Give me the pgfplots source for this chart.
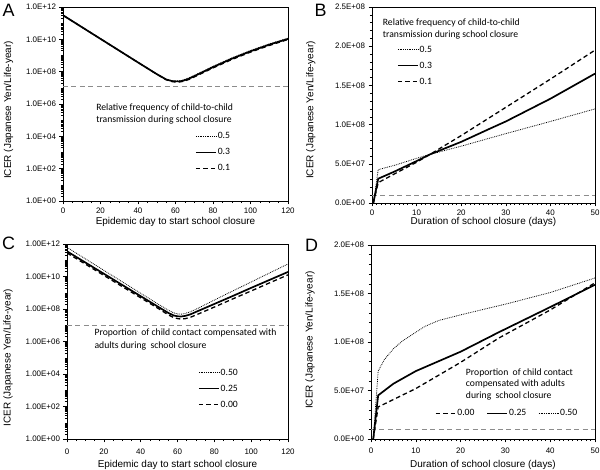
\documentclass[border=0pt]{standalone}
\usepackage{pgfplots}
\pgfplotsset{compat=1.18}
\usepackage{fontspec}
\setmainfont{Liberation Sans}
\newfontfamily\calibri{Carlito}

\tikzset{
  dotc/.style={black, line width=0.8pt, dash pattern=on 0.8pt off 1pt},
  solc/.style={black, line width=1.7pt},
  dasc/.style={black, line width=1.3pt, dash pattern=on 4.5pt off 3pt},
  thr/.style={black!45, line width=1pt, dash pattern=on 5pt off 3.5pt},
  ttl/.style={font=\calibri\fontsize{9.7}{12}\selectfont, align=left, anchor=north west, inner sep=0pt},
}
\pgfplotsset{
  mycommon/.style={
    scale only axis, anchor=south west,
    axis line style={black, line width=0.6pt},
    tick align=outside, xtick pos=left, ytick pos=left,
    major tick length=3.5bp, minor tick length=2.2bp,
    tick style={black, line width=0.5pt},
    ticklabel style={font=\fontsize{8}{9}\selectfont},
    xlabel style={font=\fontsize{9}{10}\selectfont},
    ylabel style={font=\fontsize{9.5}{10}\selectfont},
    /pgf/number format/assume math mode=true,
    legend style={draw=none, fill=none, font=\calibri\fontsize{9.7}{10}\selectfont,
      inner sep=0pt, outer sep=0pt, row sep=5bp,
      nodes={inner sep=1bp, text height=7bp, text depth=2bp}},
    legend cell align=left,
    legend image code/.code={\draw[##1] (0bp,0bp) -- (20bp,0bp);},
  },
}

\begin{document}
\begin{tikzpicture}
\path[use as bounding box] (0,0) rectangle (600bp,470bp);

% ---------------- A ----------------
\begin{axis}[mycommon, ymode=log, ymin=1, ymax=1e12,
  ytick={1,1e2,1e4,1e6,1e8,1e10,1e12},
  minor ytick={2,3,4,5,6,7,8,9,10,20,30,40,50,60,70,80,90,200,300,400,500,600,700,800,900,1e3,2e3,3e3,4e3,5e3,6e3,7e3,8e3,9e3,2e4,3e4,4e4,5e4,6e4,7e4,8e4,9e4,1e5,2e5,3e5,4e5,5e5,6e5,7e5,8e5,9e5,2e6,3e6,4e6,5e6,6e6,7e6,8e6,9e6,1e7,2e7,3e7,4e7,5e7,6e7,7e7,8e7,9e7,2e8,3e8,4e8,5e8,6e8,7e8,8e8,9e8,1e9,2e9,3e9,4e9,5e9,6e9,7e9,8e9,9e9,2e10,3e10,4e10,5e10,6e10,7e10,8e10,9e10,1e11,2e11,3e11,4e11,5e11,6e11,7e11,8e11,9e11},
  xmin=0, xmax=120, xtick={0,20,...,120}, minor x tick num=3,
  xlabel={Epidemic day to start school closure},
  ylabel={ICER (Japanese Yen/Life-year)},
  at={(63bp,269bp)}, width=225bp, height=194bp,
  yticklabels={1.0E+00,1.0E+02,1.0E+04,1.0E+06,1.0E+08,1.0E+10,1.0E+12},
  every axis y label/.style={at={(axis description cs:-0.242,0.469)}, rotate=90, anchor=center},
  every axis x label/.style={at={(axis description cs:0.5,-0.107)}, anchor=center},
  legend style={at={(rel axis cs:0.587,0.361)}, anchor=north west}]
\addplot[thr, forget plot] coordinates {(0,1.2e7) (120,1.2e7)};
\addplot[dotc] coordinates {(0,3.09e11) (10,5.75e10) (20,1.07e10) (30,2.0e9) (40,3.72e8) (50,7.08e7) (55,3.39e7) (58,2.75e7) (60,2.69e7) (62,2.69e7) (64,3.02e7) (67,4.07e7) (70,5.89e7) (80,2.14e8) (90,7.08e8) (100,2.04e9) (110,5.25e9) (120,1.17e10)};
\addlegendentry{0.5}
\addplot[solc] coordinates {(0,3.09e11) (10,5.75e10) (20,1.07e10) (30,2.0e9) (40,3.72e8) (50,7.08e7) (55,3.31e7) (58,2.63e7) (60,2.51e7) (62,2.51e7) (64,2.75e7) (67,3.63e7) (70,5.25e7) (80,1.91e8) (90,6.31e8) (100,1.82e9) (110,4.68e9) (120,1.07e10)};
\addlegendentry{0.3}
\addplot[dasc] coordinates {(0,3.09e11) (10,5.75e10) (20,1.07e10) (30,2.0e9) (40,3.72e8) (50,7.0e7) (55,3.16e7) (58,2.45e7) (60,2.29e7) (62,2.29e7) (64,2.51e7) (67,3.24e7) (70,4.68e7) (80,1.70e8) (90,5.62e8) (100,1.62e9) (110,4.17e9) (120,9.77e9)};
\addlegendentry{0.1}
\node[ttl] at (rel axis cs:0.147,0.5) {Relative frequency of child-to-child\\transmission during school closure};
\end{axis}

% ---------------- B ----------------
\begin{axis}[mycommon, xmin=0, xmax=50, xtick={0,10,...,50}, minor x tick num=9,
  minor y tick num=4, scaled y ticks=false,
  xlabel={Duration of school closure (days)},
  ylabel={ICER (Japanese Yen/Life-year)},
  at={(372bp,267bp)}, width=223bp, height=196bp,
  ymin=0, ymax=2.5e8, ytick={0,5e7,1e8,1.5e8,2e8,2.5e8},
  yticklabels={0.0E+00,5.0E+07,1.0E+08,1.5E+08,2.0E+08,2.5E+08},
  every axis y label/.style={at={(axis description cs:-0.274,0.474)}, rotate=90, anchor=center},
  every axis x label/.style={at={(axis description cs:0.5,-0.095)}, anchor=center},
  legend style={at={(rel axis cs:0.112,0.811)}, anchor=north west}]
\addplot[thr, forget plot] coordinates {(0,1e7) (50,1e7)};
\addplot[dotc] coordinates {(0.3,0) (1.4,4.25e7) (5,4.8e7) (10,5.7e7) (13,6.2e7) (20,7.25e7) (30,8.85e7) (40,1.04e8) (50,1.2e8)};
\addlegendentry{0.5}
\addplot[solc] coordinates {(0.3,0) (1.4,3.1e7) (5,4.0e7) (10,5.35e7) (13,6.2e7) (20,7.8e7) (26.5,9.5e7) (30,1.04e8) (40,1.33e8) (50,1.65e8)};
\addlegendentry{0.3}
\addplot[dasc] coordinates {(0.3,0) (1.4,2.6e7) (5,3.7e7) (10,5.2e7) (13,6.2e7) (20,8.6e7) (30,1.22e8) (40,1.58e8) (50,1.95e8)};
\addlegendentry{0.1}
\node[ttl] at (rel axis cs:0.048,0.939) {Relative frequency of child-to-child\\transmission during school closure};
\end{axis}

% ---------------- C ----------------
\begin{axis}[mycommon, ymode=log, ymin=1, ymax=1e12,
  ytick={1,1e2,1e4,1e6,1e8,1e10,1e12},
  minor ytick={2,3,4,5,6,7,8,9,10,20,30,40,50,60,70,80,90,200,300,400,500,600,700,800,900,1e3,2e3,3e3,4e3,5e3,6e3,7e3,8e3,9e3,2e4,3e4,4e4,5e4,6e4,7e4,8e4,9e4,1e5,2e5,3e5,4e5,5e5,6e5,7e5,8e5,9e5,2e6,3e6,4e6,5e6,6e6,7e6,8e6,9e6,1e7,2e7,3e7,4e7,5e7,6e7,7e7,8e7,9e7,2e8,3e8,4e8,5e8,6e8,7e8,8e8,9e8,1e9,2e9,3e9,4e9,5e9,6e9,7e9,8e9,9e9,2e10,3e10,4e10,5e10,6e10,7e10,8e10,9e10,1e11,2e11,3e11,4e11,5e11,6e11,7e11,8e11,9e11},
  xmin=0, xmax=120, xtick={0,20,...,120}, minor x tick num=3,
  xlabel={Epidemic day to start school closure},
  ylabel={ICER (Japanese Yen/Life-year)},
  at={(67bp,31bp)}, width=221bp, height=195bp,
  yticklabels={1.00E+00,1.00E+02,1.00E+04,1.00E+06,1.00E+08,1.00E+10,1.00E+12},
  every axis y label/.style={at={(axis description cs:-0.267,0.418)}, rotate=90, anchor=center},
  every axis x label/.style={at={(axis description cs:0.5,-0.133)}, anchor=center},
  xticklabel style={yshift=-3bp},
  legend style={at={(rel axis cs:0.593,0.369)}, anchor=north west}]
\addplot[thr, forget plot] coordinates {(0,1e7) (120,1e7)};
\addplot[dotc] coordinates {(0,6.17e11) (10,1.22e11) (20,2.40e10) (30,4.73e9) (40,9.33e8) (50,1.84e8) (55,8.51e7) (58,5.75e7) (60,5.01e7) (62,4.79e7) (64,5.25e7) (67,6.76e7) (70,9.55e7) (80,3.55e8) (90,1.29e9) (100,4.57e9) (110,1.66e10) (120,5.89e10)};
\addlegendentry{0.50}
\addplot[solc] coordinates {(0,3.55e11) (10,7.24e10) (20,1.48e10) (30,3.02e9) (40,6.17e8) (50,1.26e8) (55,5.75e7) (58,3.98e7) (60,3.55e7) (62,3.47e7) (64,3.72e7) (67,4.68e7) (70,6.61e7) (80,2.04e8) (90,6.31e8) (100,2.0e9) (110,6.17e9) (120,1.91e10)};
\addlegendentry{0.25}
\addplot[dasc] coordinates {(0,2.82e11) (10,5.75e10) (20,1.17e10) (30,2.40e9) (40,4.90e8) (50,1.0e8) (55,4.37e7) (58,2.95e7) (60,2.57e7) (62,2.40e7) (64,2.51e7) (67,3.09e7) (70,4.27e7) (80,1.32e8) (90,4.17e8) (100,1.29e9) (110,4.07e9) (120,1.26e10)};
\addlegendentry{0.00}
\node[ttl, font=\calibri\fontsize{9.7}{13}\selectfont] at (rel axis cs:0.124,0.564) {Proportion\ \ of child contact compensated with\\adults during\ \ school closure};
\end{axis}

% ---------------- D ----------------
\begin{axis}[mycommon, xmin=0, xmax=50, xtick={0,10,...,50}, minor x tick num=9,
  minor y tick num=4, scaled y ticks=false,
  xlabel={Duration of school closure (days)},
  ylabel={ICER (Japanese Yen/Life-year)},
  at={(371bp,31bp)}, width=224bp, height=194bp,
  ymin=0, ymax=2e8, ytick={0,5e7,1e8,1.5e8,2e8},
  yticklabels={0.0E+00,5.0E+07,1.0E+08,1.5E+08,2.0E+08},
  every axis y label/.style={at={(axis description cs:-0.272,0.51)}, rotate=90, anchor=center},
  every axis x label/.style={at={(axis description cs:0.5,-0.134)}, anchor=center},
  xticklabel style={yshift=-2bp},
  legend columns=3,
  legend style={at={(rel axis cs:0.286,0.16)}, anchor=north west,
    /tikz/every even column/.append style={column sep=11bp}}]
\addplot[thr, forget plot] coordinates {(0,1e7) (50,1e7)};
\addplot[dasc] coordinates {(0.5,0) (1.6,3.3e7) (10,5.2e7) (16.5,6.95e7) (20,7.9e7) (28.5,1.04e8) (40,1.33e8) (50,1.61e8)};
\addlegendentry{0.00}
\addplot[solc] coordinates {(0.5,0) (1.6,4.5e7) (5,5.7e7) (10,7.0e7) (15,8.0e7) (20,9.0e7) (28.5,1.1e8) (40,1.36e8) (50,1.59e8)};
\addlegendentry{0.25}
\addplot[dotc] coordinates {(0.5,0) (1.6,7.0e7) (3,8.2e7) (5,9.3e7) (7,1.01e8) (10,1.10e8) (12,1.16e8) (15,1.22e8) (20,1.28e8) (30,1.39e8) (40,1.51e8) (50,1.66e8)};
\addlegendentry{0.50}
\node[ttl, font=\calibri\fontsize{9.7}{11.3}\selectfont] at (rel axis cs:0.423,0.363) {Proportion\ \ of child contact\\compensated with adults\\during\ \ school closure};
\end{axis}

% panel letters
\node[font=\fontsize{18}{18}\selectfont, inner sep=0pt] at (8.5bp,459.5bp) {A};
\node[font=\fontsize{18}{18}\selectfont, inner sep=0pt] at (320.5bp,459.5bp) {B};
\node[font=\fontsize{18}{18}\selectfont, inner sep=0pt] at (8.5bp,226.5bp) {C};
\node[font=\fontsize{18}{18}\selectfont, inner sep=0pt] at (311.5bp,225bp) {D};
\end{tikzpicture}
\end{document}
